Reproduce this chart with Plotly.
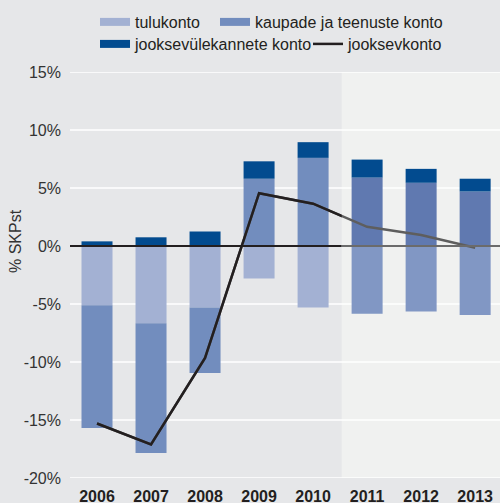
import plotly.graph_objects as go

years = ["2006", "2007", "2008", "2009", "2010", "2011", "2012", "2013"]
tulukonto = [-5.1, -6.65, -5.3, -2.8, -5.3, -5.85, -5.65, -5.95]
kaupade = [-10.6, -11.2, -5.65, 5.8, 7.6, 5.9, 5.45, 4.7]
jooksevulek = [0.4, 0.75, 1.25, 1.5, 1.35, 1.55, 1.2, 1.1]
jooksevkonto = [-15.3, -17.1, -9.65, 4.55, 3.65, 1.65, 0.95, -0.15]
forecast = [False, False, False, False, False, True, True, True]

y_tickvals = [-20, -15, -10, -5, 0, 5, 10, 15]
y_ticktext = ["-20%", "-15%", "-10%", "-5%", "0%", "5%", "10%", "15%"]

names = ["tulukonto", "kaupade ja teenuste konto", "jooksevülekannete konto", "jooksevkonto"]

BG = "#e6e7e9"
FC_BG = "#f0f1f0"
C_TULU = "#a3b1d3"
C_TULU_F = "#8197c4"
C_KAUP = "#728dbe"
C_KAUP_F = "#6079b0"
C_JYL = "#024b8f"
C_LINE = "#231f20"
C_LINE_F = "#5e5e5e"
TXT = "#333333"
FONT = "Liberation Sans, Arial, sans-serif"

fig = go.Figure()

series = [
    (tulukonto, [C_TULU_F if f else C_TULU for f in forecast]),
    (kaupade, [C_KAUP_F if f else C_KAUP for f in forecast]),
    (jooksevulek, [C_JYL for f in forecast]),
]
for (vals, cols), nm in zip(series, names[:3]):
    fig.add_trace(go.Bar(x=years, y=vals, marker=dict(color=cols, line=dict(width=0)),
                         name=nm, showlegend=False, xaxis="x", yaxis="y"))

# gray line (whole), dark line clipped to the historical part via second axis
fig.add_trace(go.Scatter(x=years, y=jooksevkonto, mode="lines",
                         line=dict(color=C_LINE_F, width=2.5), showlegend=False,
                         xaxis="x", yaxis="y"))
fig.add_trace(go.Scatter(x=years, y=jooksevkonto, mode="lines",
                         line=dict(color=C_LINE, width=2.5), name=names[3],
                         legend="legend4", xaxis="x2", yaxis="y2"))

# legend entries for bars
leg_cols = [C_TULU, C_KAUP, C_JYL]
leg_ids = ["legend", "legend2", "legend3"]
for nm, c, lid in zip(names[:3], leg_cols, leg_ids):
    fig.add_trace(go.Scatter(x=[years[0]], y=[None], mode="lines",
                             line=dict(color=c, width=8), name=nm, legend=lid,
                             xaxis="x", yaxis="y"))

XR = [-0.5, 7.46]
split = 4.53
d = (split - XR[0]) / (XR[1] - XR[0])

def leg(x, y):
    return dict(x=x / 500, y=1 - y / 503, xref="container", yref="container",
                xanchor="left", yanchor="middle", bgcolor="rgba(0,0,0,0)",
                font=dict(family=FONT, size=16, color=C_LINE), itemwidth=30,
                borderwidth=0)

shapes = [
    dict(type="rect", xref="x", yref="paper", x0=split, x1=XR[1] + 0.2, y0=0, y1=1,
         fillcolor=FC_BG, line=dict(width=0), layer="below"),
]
for v in y_tickvals:
    if v == 0:
        continue
    shapes.append(dict(type="line", xref="paper", yref="y", x0=0, x1=1, y0=v, y1=v,
                       line=dict(color="white", width=1.5), layer="below"))
shapes += [
    dict(type="line", xref="x", yref="y", x0=XR[0], x1=split, y0=0, y1=0,
         line=dict(color=C_LINE, width=2), layer="above"),
    dict(type="line", xref="x", yref="y", x0=split, x1=XR[1] + 0.2, y0=0, y1=0,
         line=dict(color="#6b6b6b", width=2), layer="above"),
]

fig.update_layout(
    width=500, height=503,
    margin=dict(l=70, r=0, t=72, b=25, autoexpand=False),
    paper_bgcolor=BG, plot_bgcolor="rgba(0,0,0,0)",
    barmode="relative", bargap=0.426,
    font=dict(family=FONT, color=TXT, size=16),
    xaxis=dict(type="category", range=XR, domain=[0, 1], showgrid=False, zeroline=False,
               showline=False, ticks="", tickfont=dict(family=FONT, size=16, color=C_LINE, weight="bold"),
               ticklabelstandoff=7),
    yaxis=dict(range=[-20, 15], tickvals=y_tickvals, ticktext=y_ticktext,
               showgrid=False, zeroline=False,
               showline=False, ticks="", tickfont=dict(family=FONT, size=16, color=TXT),
               ticklabelstandoff=8),
    xaxis2=dict(type="category", range=[XR[0], split], domain=[0, d], anchor="y2",
                showticklabels=False, showgrid=False, zeroline=False, showline=False, ticks=""),
    yaxis2=dict(range=[-20, 15], domain=[0, 1], anchor="x2", showticklabels=False,
                showgrid=False, zeroline=False, showline=False, ticks=""),
    legend=leg(95, 22),
    legend2=leg(215, 22),
    legend3=leg(95, 44),
    legend4=leg(308, 44),
    shapes=shapes,
    annotations=[
        dict(text="% SKPst", textangle=-90, xref="paper", yref="paper",
             x=(15 - 70) / 430, y=(478 - 241) / 406, showarrow=False,
             xanchor="center", yanchor="middle",
             font=dict(family=FONT, size=16, color=TXT)),
    ],
)

fig.write_html("out.html", config={"displayModeBar": False},
               post_script="document.body.style.margin='0px';"
                           "document.body.style.background='" + BG + "';")
